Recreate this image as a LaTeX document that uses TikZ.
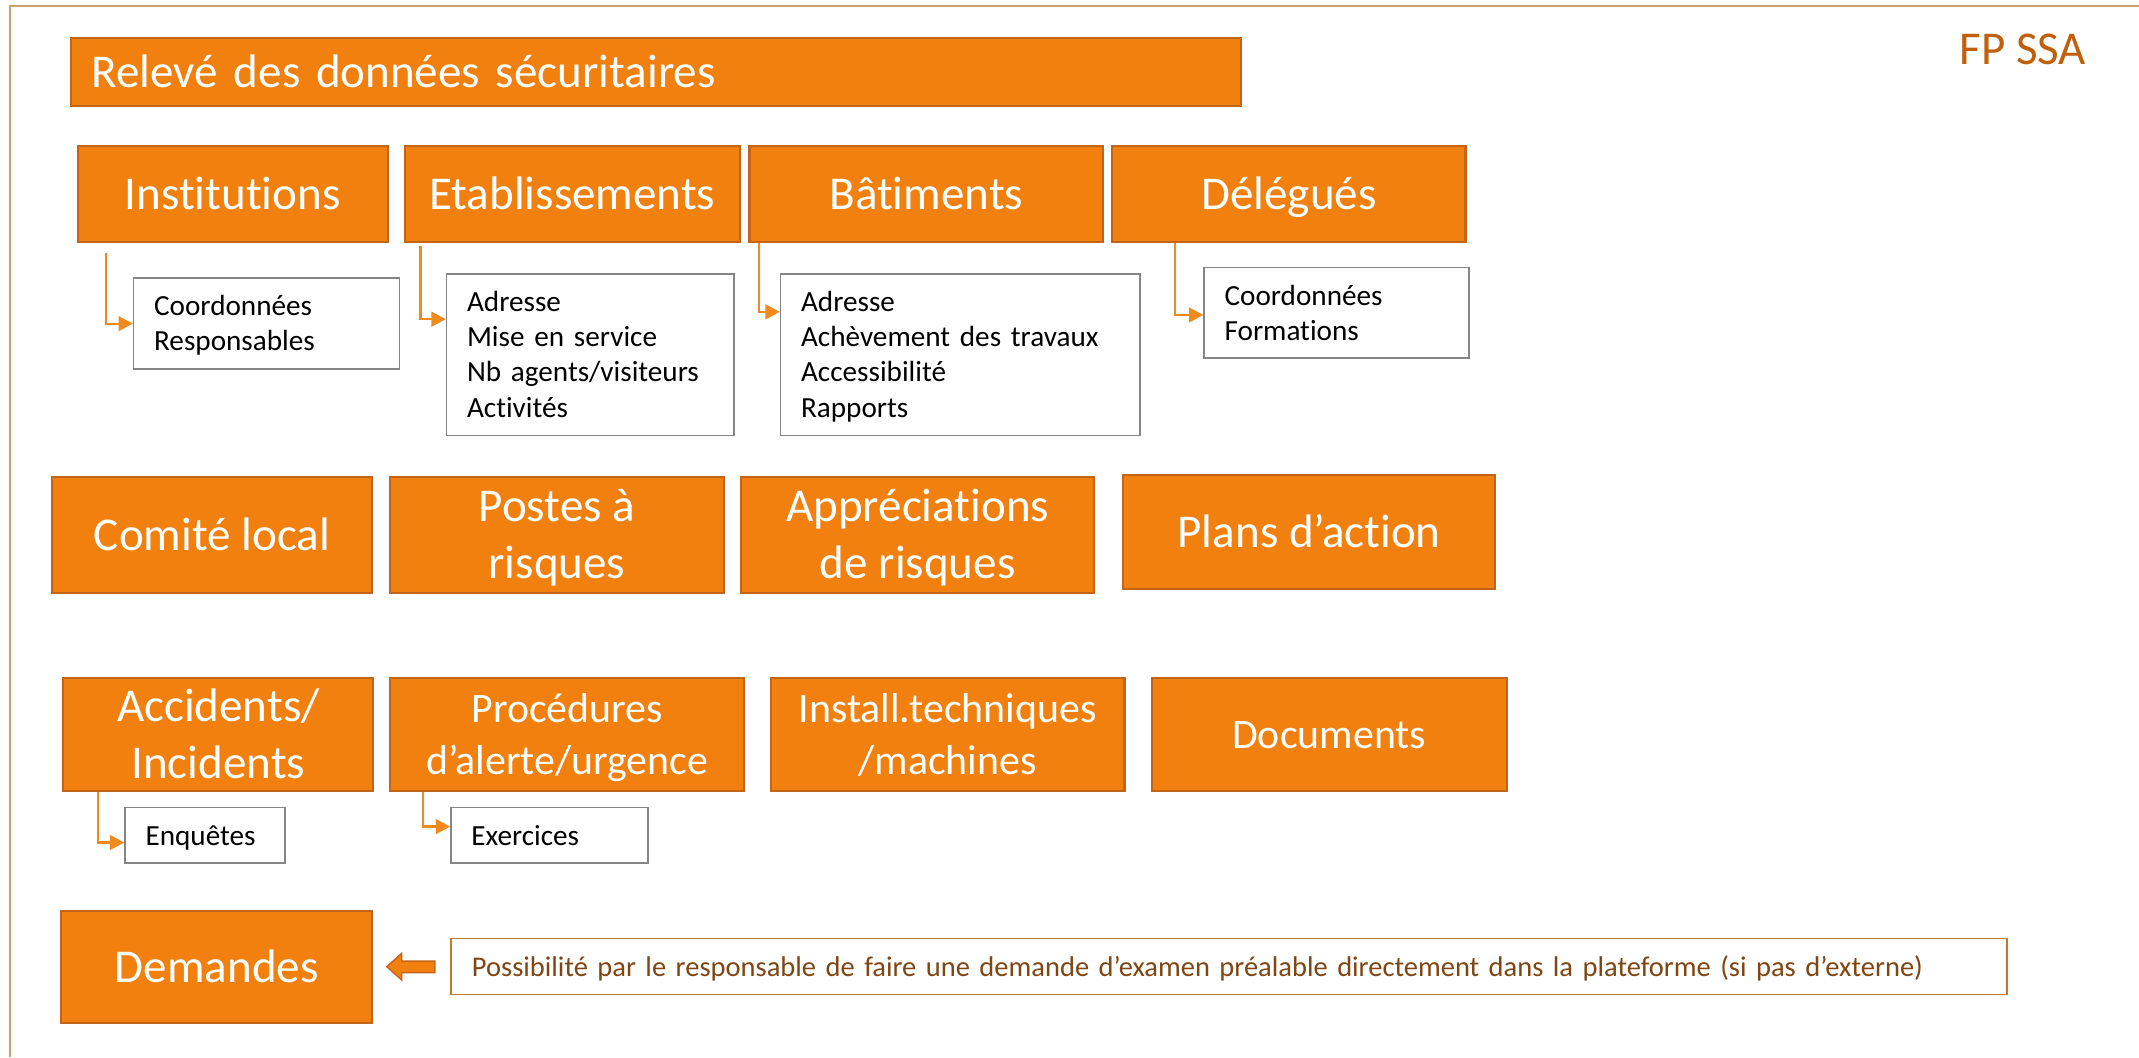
\documentclass[tikz,border=0pt]{standalone}
\usepackage{fontspec}
\setmainfont{Carlito}[Ligatures={TeX,NoCommon}]
\usetikzlibrary{arrows.meta}
\definecolor{ofill}{HTML}{F2800F}
\definecolor{oline}{HTML}{C2651B}
\definecolor{framec}{HTML}{C9A16C}
\definecolor{grayb}{HTML}{858585}
\definecolor{connc}{HTML}{F0891E}
\definecolor{brownt}{HTML}{7F4512}
\definecolor{brownb}{HTML}{C07A2C}
\definecolor{fptext}{HTML}{C0600C}
\newcommand{\ostrut}{\rule[-0.17em]{0pt}{1.0em}}
\tikzset{
  obox/.style={draw=oline, fill=ofill, line width=1.5pt, text=white, align=center, inner sep=0pt,
    font=\fontsize{34.5pt}{42.1pt}\selectfont},
  obsmall/.style={obox, font=\fontsize{30.7pt}{37.6pt}\selectfont},
  wbox/.style={draw=grayb, fill=white, line width=1.2pt, align=left, inner ysep=0pt, inner xsep=15pt,
    font=\fontsize{21.4pt}{25.7pt}\selectfont},
  linkarrow/.style={draw=connc, line width=1.6pt, -{Triangle[length=10.5pt,width=10.8pt]}},
}
\begin{document}
\begin{tikzpicture}[x=1pt,y=-1pt]
\useasboundingbox (0,0) rectangle (1568.2,775);
% frame
\draw[framec, line width=1.5pt] (7.5,775) -- (7.5,4.2) -- (1568.2,4.2);
\node[anchor=base west, text=fptext, inner sep=0pt, font=\fontsize{34.5pt}{42pt}\selectfont] (fp) at (1436.4,47.2) {FP SSA};

% title
\node[obox, align=left, minimum height=49.6pt, text width=827.6pt, inner xsep=15pt] (title) at (481.1,52.9) {\ostrut Relevé des données sécuritaires};

% row 1
\node[obox, minimum width=227.4pt, minimum height=70.9pt] (inst) at (170.6,142.25) {\ostrut Institutions};
\node[obox, minimum width=245.8pt, minimum height=70.9pt] (etab) at (419.6,142.25) {\ostrut Etablissements};
\node[obox, minimum width=259.3pt, minimum height=70.9pt] (bat) at (679.15,142.25) {\ostrut Bâtiments};
\node[obox, minimum width=258.9pt, minimum height=70.9pt] (del) at (944.95,142.25) {\ostrut Délégués};

% sub boxes row 1
\node[wbox, text width=164.9pt, minimum height=66.5pt] (instsub) at (195.45,237.25) {\ostrut Coordonnées\\\ostrut Responsables};
\node[wbox, text width=180.6pt, minimum height=118.5pt] (etabsub) at (432.7,260.15) {\ostrut Adresse\\\ostrut Mise en service\\\ostrut Nb agents/visiteurs\\\ostrut Activités};
\node[wbox, text width=233.7pt, minimum height=118.5pt] (batsub) at (704.15,260.15) {\ostrut Adresse\\\ostrut Achèvement des travaux\\\ostrut Accessibilité\\\ostrut Rapports};
\node[wbox, text width=164.2pt, minimum height=66.5pt] (delsub) at (979.9,229.45) {\ostrut Coordonnées\\\ostrut Formations};

\draw[linkarrow] ([xshift=21.7pt,yshift=-7.3pt]inst.south west) |- (instsub.west);
\draw[linkarrow] ([xshift=12.3pt,yshift=-1.9pt]etab.south west) |- ([yshift=26.15pt]etabsub.west);
\draw[linkarrow] ([xshift=7.8pt]bat.south west) |- ([yshift=31.5pt]batsub.west);
\draw[linkarrow] ([xshift=46.5pt]del.south west) |- ([yshift=-1.45pt]delsub.west);

% row 2
\node[obox, minimum width=234.1pt, minimum height=85pt] (comite) at (155.45,392) {\ostrut Comité local};
\node[obox, minimum width=245pt, minimum height=85pt] (postes) at (408.3,392) {\ostrut Postes à\\\ostrut risques};
\node[obox, minimum width=259.2pt, minimum height=85pt] (appr) at (672.8,392) {\ostrut Appréciations\\\ostrut de risques};
\node[obox, minimum width=272.4pt, minimum height=83.8pt] (plans) at (959.8,390.1) {\ostrut Plans d’action};

% row 3
\node[obox, minimum width=227.1pt, minimum height=82.7pt] (acc) at (160.05,538.65) {\ostrut Accidents/\\\ostrut Incidents};
\node[obsmall, minimum width=260pt, minimum height=82.7pt] (proc) at (415.8,538.65) {\ostrut Procédures\\\ostrut d’alerte/urgence};
\node[obsmall, minimum width=259.2pt, minimum height=82.7pt] (tech) at (694.8,538.65) {\ostrut Install.techniques\\\ostrut /machines};
\node[obsmall, minimum width=260.3pt, minimum height=82.7pt] (docs) at (974.45,538.65) {\ostrut Documents};

\node[wbox, text width=87.1pt, minimum height=40.8pt] (enq) at (150.25,612.5) {\ostrut Enquêtes};
\node[wbox, text width=114.7pt, minimum height=40.8pt] (exer) at (402.95,612.5) {\ostrut Exercices};
\draw[linkarrow] ([xshift=25.8pt]acc.south west) |- ([yshift=-5.2pt]enq.west);
\draw[linkarrow] ([xshift=25.2pt]proc.south west) |- ([yshift=6.5pt]exer.west);

% row 4
\node[obox, minimum width=228.2pt, minimum height=81.9pt] (dem) at (158.9,708.75) {\ostrut Demandes};
\node[draw=brownb, fill=white, line width=1.2pt, text=brownt, align=left, inner xsep=15.3pt, inner ysep=0pt,
  text width=1110.2pt, minimum height=41.1pt, font=\fontsize{20.9pt}{25.2pt}\selectfont] (poss) at (901.1,708.65)
  {\ostrut Possibilité par le responsable de faire une demande d’examen préalable directement dans la plateforme (si pas d’externe)};
\draw[fill=ofill, draw=oline, line width=1pt, line join=miter] (283.5,708.7) -- (294.5,698.9) -- (294.5,704.6) -- (318.9,704.6)
  -- (318.9,713.1) -- (294.5,713.1) -- (294.5,718.5) -- cycle;
\end{tikzpicture}
\end{document}
